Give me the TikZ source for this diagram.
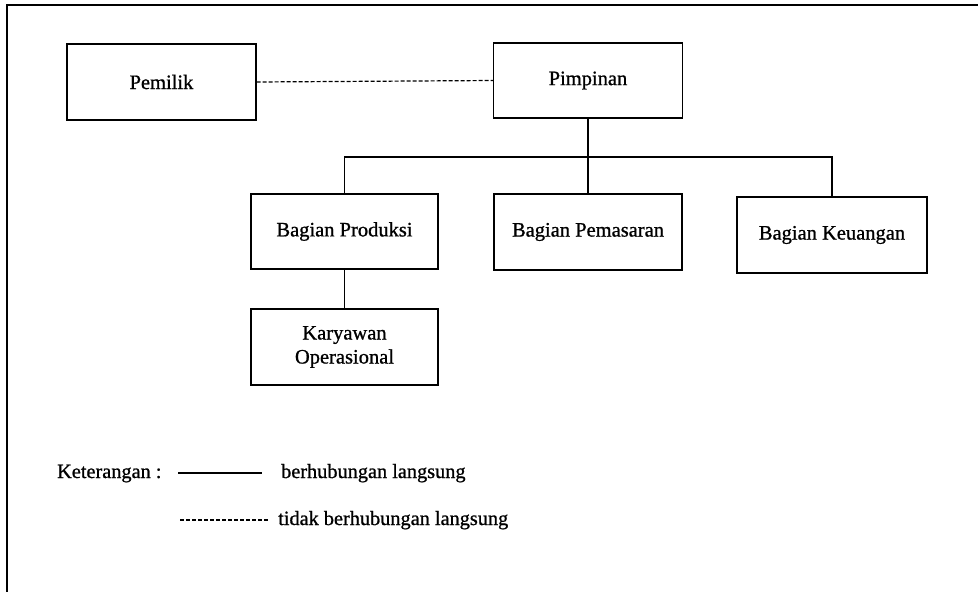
\documentclass[tikz,border=0pt]{standalone}
\usepackage{fontspec}
\setmainfont{Liberation Serif}[BoldFont={Liberation Serif}, BoldFeatures={FakeBold=0.9}]
\begin{document}
\begin{tikzpicture}[x=1pt,y=1pt,
  box/.style={draw, line width=1.4pt, inner sep=0pt, align=center,
    font=\fontsize{20.5}{24}\selectfont\bfseries},
  lbl/.style={anchor=base west, inner sep=0pt, font=\fontsize{20.3}{24}\selectfont\bfseries},
  conn/.style={line width=1.4pt},
  dconn/.style={line width=1.2pt, dash pattern=on 4pt off 2pt}]
\useasboundingbox (0,0) rectangle (978,-592);
% frame (only top and left edges visible)
\draw[line width=1.8pt] (7,-592) -- (7,-5) -- (978,-5);
% boxes
\node[box, minimum width=189pt, minimum height=76pt] (pem) at (161.5,-82) {Pemilik};
\node[box, minimum width=189pt, minimum height=75pt] (pim) at (588,-80.5) {Pimpinan};
\node[box, minimum width=187pt, minimum height=75pt] (prod) at (344.5,-231.5) {Bagian Produksi};
\node[box, minimum width=188pt, minimum height=76pt] (pms) at (588,-232) {Bagian Pemasaran};
\node[box, minimum width=190pt, minimum height=76pt] (keu) at (832,-235) {Bagian Keuangan};
\node[box, minimum width=187pt, minimum height=76pt] (kar) at (344.5,-347) {Karyawan\\Operasional};
% connectors
\coordinate (busL) at (344.5,-157);
\coordinate (busR) at (832,-157);
\draw[dconn] (pem.east) -- (pim.west);
\draw[conn] (pim.south) -- (pms.north);
\draw[conn] (prod.north) -- (busL) -- (busR) -- (keu.north);
\draw[conn] (prod.south) -- (kar.north);
% legend
\node[lbl] (ket) at (57,-478) {Keterangan :};
\coordinate (s1) at (178,-473);
\coordinate (s2) at (262,-473);
\draw[line width=1.2pt] (s1) -- (s2);
\node[lbl] (l1) at (281,-478) {berhubungan langsung};
\coordinate (d1) at (180,-520);
\coordinate (d2) at (268,-520);
\draw[line width=1.1pt, dash pattern=on 4pt off 2pt] (d1) -- (d2);
\node[lbl] (l2) at (278,-525) {tidak berhubungan langsung};
\end{tikzpicture}
\end{document}
